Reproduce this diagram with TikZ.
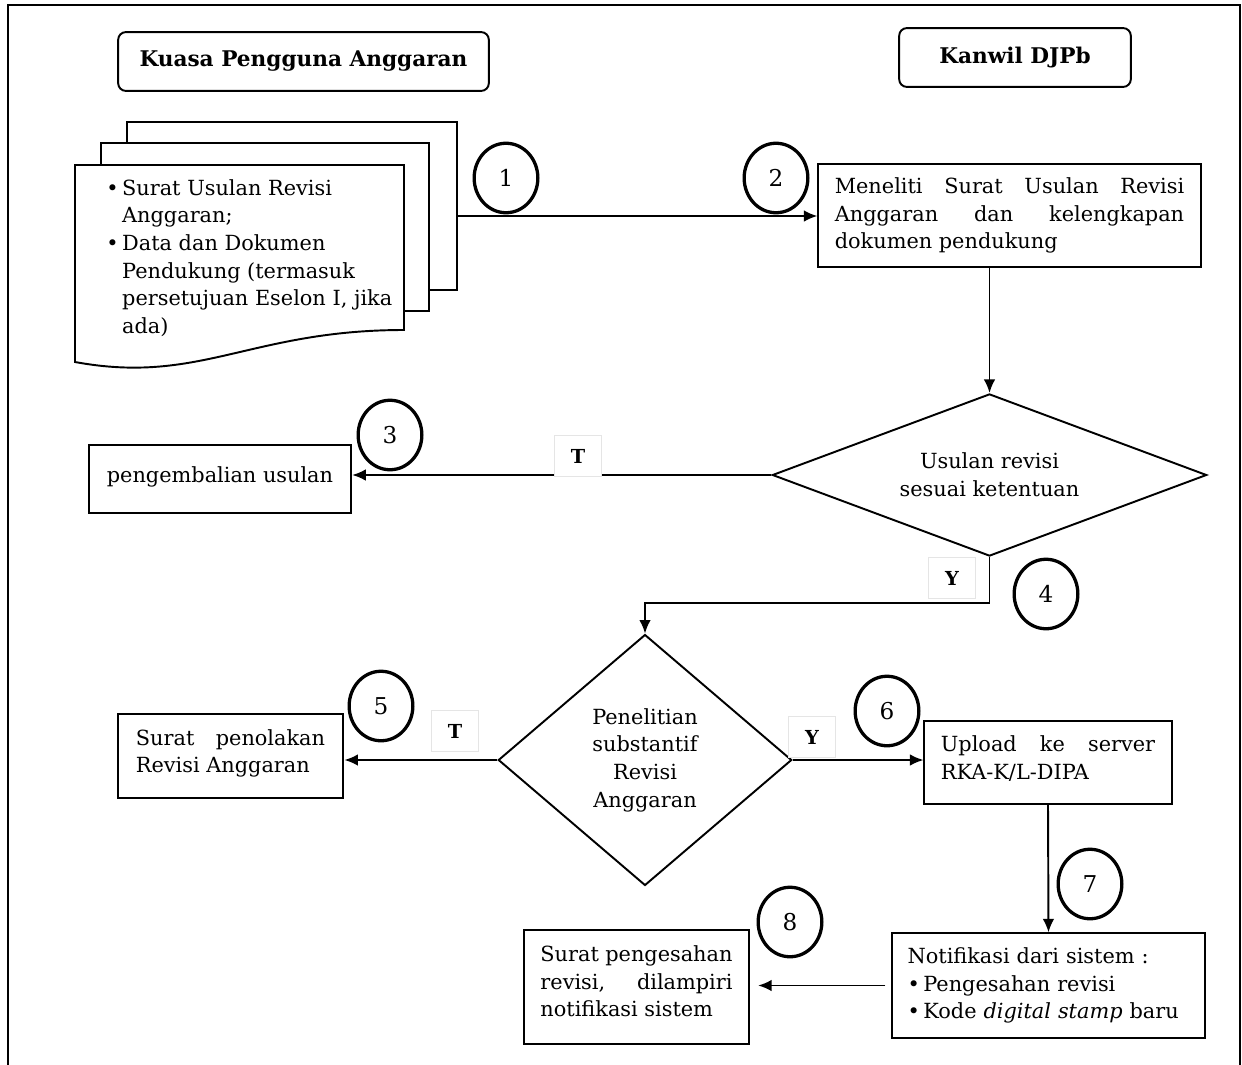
\documentclass[tikz,border=0pt]{standalone}
\usepackage{fontspec}
\setmainfont{DejaVu Serif}
\usepackage{tikz}
\usetikzlibrary{shapes.geometric,arrows.meta}
\tikzstyle{kotak}=[
        draw,
        line width=1pt,
        inner sep=0pt,
        align=justify
]
\tikzstyle{judul}=[
        draw,
        line width=1pt,
        rounded corners=4pt,
        font=\fontsize{11.2}{14}\selectfont\bfseries
]
\tikzstyle{nomor}=[
        draw,
        ellipse,
        line width=1.7pt,
        minimum width=33pt,
        minimum height=36pt,
        font=\fontsize{12}{14}\selectfont
]
\tikzstyle{keputusan}=[
        draw,
        diamond,
        line width=1pt,
        inner sep=0pt,
        align=center
]
\tikzstyle{jawab}=[
        draw=gray!20,
        fill=white,
        font=\bfseries,
        minimum width=24pt,
        minimum height=21pt
]
\tikzstyle{panah}=[
        -{Latex[length=7pt,width=6pt]},
        line width=1pt
]
\tikzstyle{lembar}=[
        draw,
        fill=white,
        line width=1pt
]

\begin{document}
\begin{tikzpicture}[x=0.518pt,y=-0.518pt,font=\fontsize{10.8}{14.3}\selectfont]
                        \useasboundingbox (0,0) rectangle (1242,1064);
                        \draw[line width=1pt] (8,1070) -- (8,5) -- (1240,5) -- (1240,1070);

                        % judul kolom
                        \node[judul,minimum width=192pt,minimum height=30.5pt] (kpa) at (303.5,61.5) {Kuasa Pengguna Anggaran};
                        \node[judul,minimum width=120pt,minimum height=30.5pt] (kanwil) at (1015,57.5) {Kanwil DJPb};

                        % tumpukan dokumen
                        \draw[lembar] (127,122) rectangle (457,290);
                        \draw[lembar] (101,143) rectangle (429,311);
                        \draw[lembar] (75,165) -- (404,165) -- (404,330)
                            .. controls (250,330) and (200,385) .. (75,362) -- cycle;
                        \node[anchor=north west,align=left,inner sep=0pt] (usulan) at (106,179) {%
                            \textbullet\,Surat Usulan Revisi\\
                            \hphantom{\textbullet\,}Anggaran;\\
                            \textbullet\,Data dan Dokumen\\
                            \hphantom{\textbullet\,}Pendukung (termasuk\\
                            \hphantom{\textbullet\,}persetujuan Eselon I, jika\\
                            \hphantom{\textbullet\,}ada)};
                        \coordinate (docout) at (457,216);

                        \node[kotak,text width=181pt,minimum width=198pt,minimum height=53pt] (meneliti) at (1009.5,215.5)
                            {Meneliti Surat Usulan Revisi Anggaran dan kelengkapan dokumen pendukung};

                        \node[keputusan,aspect=2.68,minimum width=225pt,minimum height=84pt] (cek1) at (989.5,475)
                            {Usulan revisi\\sesuai ketentuan};

                        \node[kotak,align=center,minimum width=136pt,minimum height=35pt] (kembali) at (220,479)
                            {pengembalian usulan\vphantom{\rule{0pt}{9pt}}\rule[-5pt]{0pt}{5pt}};

                        \node[keputusan,aspect=1.17,minimum width=152pt,minimum height=130pt] (cek2) at (645,760)
                            {Penelitian\\substantif\\Revisi\\Anggaran};

                        \node[kotak,text width=98pt,minimum width=117pt,minimum height=43.5pt] (tolak) at (230.5,756)
                            {Surat penolakan Revisi Anggaran\rule[-5pt]{0pt}{5pt}};

                        \node[kotak,text width=111pt,minimum width=128pt,minimum height=43pt] (upload) at (1048,762.5)
                            {Upload ke server RKA-K/L-DIPA\rule[-5pt]{0pt}{5pt}};

                        \node[kotak,align=left,text width=146pt,minimum width=162pt,minimum height=54pt] (notif) at (1048.5,985.5)
                            {Notifikasi dari sistem :\\
                             \textbullet\,Pengesahan revisi\\
                             \textbullet\,Kode \textit{digital stamp} baru};

                        \node[kotak,text width=99.5pt,minimum width=117pt,minimum height=59pt] (sah) at (636.5,987)
                            {Surat pengesahan revisi, dilampiri notifikasi sistem\rule[-6pt]{0pt}{6pt}};

                        % penghubung
                        \draw[panah] (docout) -- (docout -| meneliti.west);
                        \draw[panah] (meneliti.south -| cek1.north) -- (cek1.north);
                        \draw[panah] (cek1.west) -- (cek1.west -| kembali.east);
                        \draw[panah] (cek1.south) -- ++(0,46) -| (cek2.north);
                        \draw[panah] (cek2.west) -- (cek2.west -| tolak.east);
                        \draw[panah] (cek2.east) -- (cek2.east -| upload.west);
                        \draw[panah] (upload.south) -- (notif.north);
                        \draw[panah,shorten <=3pt,shorten >=4pt] (notif.west) -- (notif.west -| sah.east);

                        % jawaban
                        \node[jawab] (t1) at (578,456) {T};
                        \node[jawab] (y1) at (952,578) {Y};
                        \node[jawab] (t2) at (455,731) {T};
                        \node[jawab] (y2) at (812,737) {Y};

                        % nomor langkah
                        \node[nomor] (n1) at (506,178) {1};
                        \node[nomor] (n2) at (776,178) {2};
                        \node[nomor] (n3) at (390,435) {3};
                        \node[nomor] (n4) at (1046,594) {4};
                        \node[nomor] (n5) at (381,706) {5};
                        \node[nomor] (n6) at (887,711) {6};
                        \node[nomor] (n7) at (1090,884) {7};
                        \node[nomor] (n8) at (790,922) {8};

                    \end{tikzpicture}
\end{document}
